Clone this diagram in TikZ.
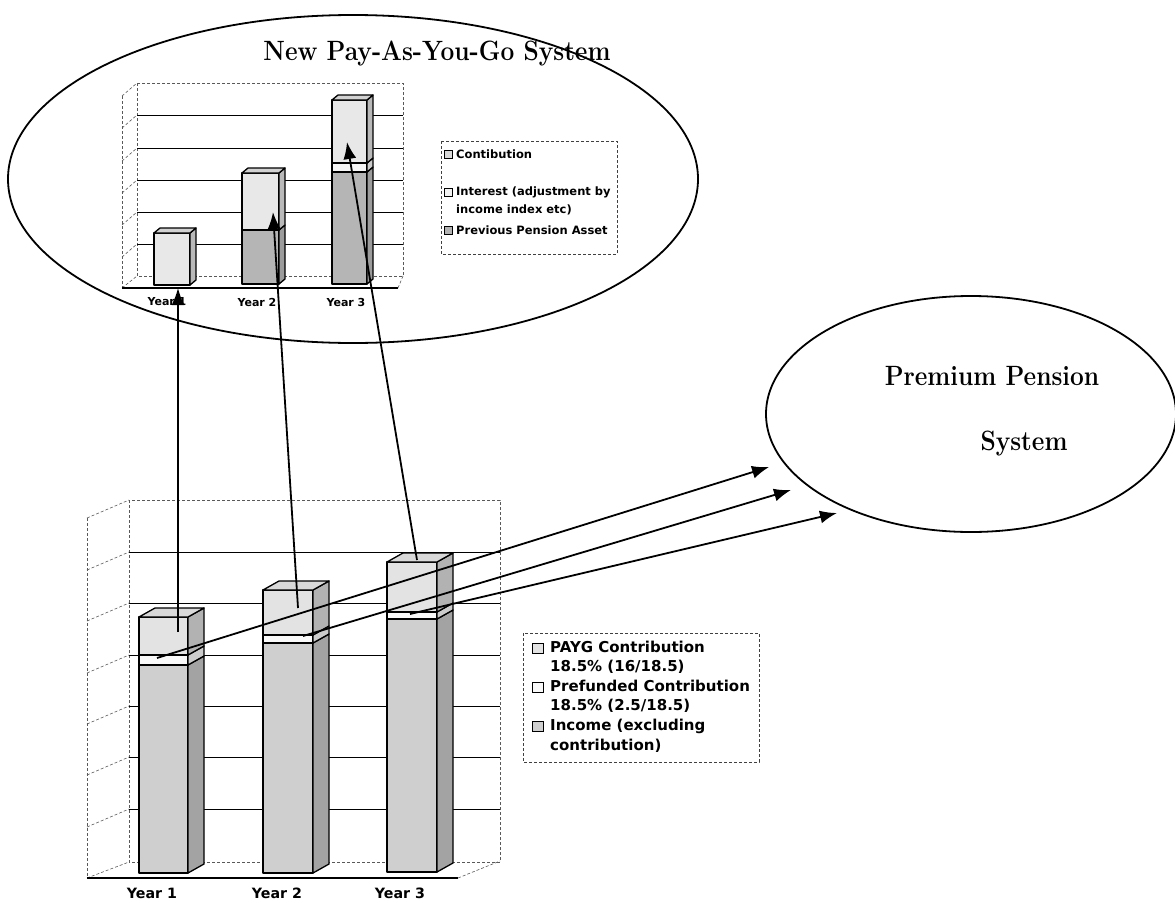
\documentclass[tikz,border=0pt]{standalone}
\usepackage{fontspec}
\newfontfamily\gothic{DejaVu Sans}
\usetikzlibrary{calc,arrows.meta,shapes.geometric}
% bar segment: xl, xr, ytop, ybot, dx, dy, front colour, side colour
\newcommand{\barseg}[8]{%
  \filldraw[barline,fill=#7] (#1,#3) rectangle (#2,#4);
  \filldraw[barline,fill=#8] (#2,#3) -- ++(#5,#6) -- ($(#2,#4)+(#5,#6)$) -- (#2,#4) -- cycle;
}
% bar top face: xl, xr, ytop, dx, dy, colour
\newcommand{\bartop}[6]{%
  \filldraw[barline,fill=#6] (#1,#3) -- ++(#4,#5) -- ($(#2,#3)+(#4,#5)$) -- (#2,#3) -- cycle;
}
\newcommand{\tallbf}[1]{\scalebox{1}[1.14]{#1}}
\begin{document}
\begin{tikzpicture}[x=1pt,y=-1pt,
  barline/.style={draw=black,line width=1.3pt,line join=round},
  wall/.style={draw=black!65,line width=0.6pt,densely dashed},
  gridl/.style={draw=black,line width=0.9pt},
  floorl/.style={draw=black,line width=1.1pt},
  arr/.style={draw=black,line width=1.8pt,-{Latex[length=17pt,width=13pt]}},
  oval/.style={draw=black,line width=1.8pt,ellipse,inner sep=0pt},
  ttl/.style={font=\fontsize{24.5}{28}\selectfont\bfseries,inner sep=0pt},
  yrbig/.style={font=\gothic\bfseries\fontsize{14.2}{16}\selectfont,inner sep=0pt},
  yrsmall/.style={font=\gothic\bfseries\fontsize{11}{13}\selectfont,inner sep=0pt},
  legbig/.style={font=\gothic\bfseries\fontsize{15}{19.5}\selectfont,align=left,anchor=west,inner sep=0pt},
  legsmall/.style={font=\gothic\bfseries\fontsize{11.5}{18}\selectfont,align=left,anchor=west,inner sep=0pt},
  legbox/.style={draw=black!75,line width=0.8pt,densely dashed},
  legkey/.style={draw=black,line width=0.9pt}
]
\useasboundingbox (0,0) rectangle (1175,902);

% ---------- ellipses ----------
\node[oval,minimum width=690pt,minimum height=328pt] (payg) at (353,179) {};
\node[oval,minimum width=410pt,minimum height=236pt] (ppm) at (971,414) {};

\node[ttl,anchor=base] (ttlA) at (437,60) {\tallbf{New Pay-As-You-Go System}};
\node[ttl,anchor=base] (ppmA) at (992,385) {\tallbf{Premium Pension}};
\node[ttl,anchor=base] (ppmB) at (1024,450) {\tallbf{System}};

% ---------- top chart frame ----------
\draw[wall] (137,83) rectangle (403,276);
\draw[wall] (122,96) -- (137,83);
\draw[wall] (122,96) -- (122,288);
\draw[wall] (122,288) -- (137,276);
\foreach \yy in {115,148,180,212,244}{
  \draw[gridl] (137,\yy) -- (403,\yy);
  \draw[wall] (122,\yy+13) -- (137,\yy);
}
\draw[floorl] (122,288) -- (398,288);
\draw[wall] (398,288) -- (403,276);

% ---------- top chart bars ----------
% Year 1
\barseg{154}{190}{233}{285}{6}{-5}{gray!18}{gray!55}
\bartop{154}{190}{233}{6}{-5}{gray!35}
% Year 2
\barseg{242}{279}{230}{284}{6}{-5}{gray!58}{gray!78}
\barseg{242}{279}{173}{230}{6}{-5}{gray!18}{gray!55}
\bartop{242}{279}{173}{6}{-5}{gray!35}
% Year 3
\barseg{332}{367}{172}{284}{6}{-5}{gray!58}{gray!78}
\barseg{332}{367}{163}{172}{6}{-5}{gray!8}{gray!40}
\barseg{332}{367}{100}{163}{6}{-5}{gray!18}{gray!55}
\bartop{332}{367}{100}{6}{-5}{gray!35}

\node[yrsmall] (tY1) at (167,302) {Year 1};
\node[yrsmall] (tY2) at (257,302) {Year 2};
\node[yrsmall] (tY3) at (346,302) {Year 3};

% ---------- top legend ----------
\draw[legbox] (441,141) rectangle (617,254);
\draw[legkey,fill=gray!30] (444,150) rectangle (452,158);
\draw[legkey,fill=gray!10] (444,188) rectangle (452,196);
\draw[legkey,fill=gray!60] (444,226) rectangle (452,234);
\node[legsmall] (tl1) at (456,154) {Contibution};
\node[legsmall] (tl2) at (456,201) {Interest (adjustment by\\income index etc)};
\node[legsmall] (tl3) at (456,230) {Previous Pension Asset};

% ---------- bottom chart frame ----------
\draw[wall] (129,500) rectangle (500,862);
\draw[wall] (87,518) -- (129,500);
\draw[wall] (87,518) -- (87,878);
\draw[wall] (87,878) -- (129,862);
\foreach \yy in {552,603,655,706,757,809}{
  \draw[gridl] (129,\yy) -- (500,\yy);
  \draw[wall] (87,\yy+18) -- (129,\yy);
}
\draw[floorl] (87,878) -- (458,878);
\draw[wall] (458,878) -- (500,861);

% ---------- bottom chart bars ----------
% Year 1
\barseg{139}{188}{665}{873}{16}{-9}{gray!38}{gray!72}
\barseg{139}{188}{655}{665}{16}{-9}{gray!5}{gray!40}
\barseg{139}{188}{617}{655}{16}{-9}{gray!22}{gray!60}
\bartop{139}{188}{617}{16}{-9}{gray!30}
% Year 2
\barseg{263}{313}{643}{873}{16}{-9}{gray!38}{gray!72}
\barseg{263}{313}{635}{643}{16}{-9}{gray!5}{gray!40}
\barseg{263}{313}{590}{635}{16}{-9}{gray!22}{gray!60}
\bartop{263}{313}{590}{16}{-9}{gray!30}
% Year 3
\barseg{387}{437}{619}{872}{16}{-9}{gray!38}{gray!72}
\barseg{387}{437}{612}{619}{16}{-9}{gray!5}{gray!40}
\barseg{387}{437}{562}{612}{16}{-9}{gray!22}{gray!60}
\bartop{387}{437}{562}{16}{-9}{gray!30}

\node[yrbig] (bY1) at (152,893) {Year 1};
\node[yrbig] (bY2) at (277,893) {Year 2};
\node[yrbig] (bY3) at (400,893) {Year 3};

% ---------- bottom legend ----------
\draw[legbox] (523,633) rectangle (759,762);
\draw[legkey,fill=gray!22] (532,643) rectangle (543,653);
\draw[legkey,fill=gray!5] (532,682) rectangle (543,692);
\draw[legkey,fill=gray!38] (532,721) rectangle (543,731);
\node[legbig] (bl1) at (550,657.5) {PAYG Contribution\\18.5\% (16/18.5)};
\node[legbig] (bl2) at (550,696.5) {Prefunded Contribution\\18.5\% (2.5/18.5)};
\node[legbig] (bl3) at (550,736) {Income (excluding\\contribution)};

% ---------- connectors ----------
\coordinate (v1s) at (178,632);
\coordinate (v1e) at (178,288);
\coordinate (v2s) at (298,608);
\coordinate (v2e) at (273,212);
\coordinate (v3s) at (417,560);
\coordinate (v3e) at (347,142);
\draw[arr] (v1s) -- (v1e);
\draw[arr] (v2s) -- (v2e);
\draw[arr] (v3s) -- (v3e);

\coordinate (d1s) at (157,658);
\coordinate (d1e) at (769,467);
\coordinate (d2s) at (303,636);
\coordinate (d2e) at (791,490);
\coordinate (d3s) at (410,614);
\coordinate (d3e) at (837,513);
\draw[arr] (d1s) -- (d1e);
\draw[arr] (d2s) -- (d2e);
\draw[arr] (d3s) -- (d3e);
\end{tikzpicture}
\end{document}
